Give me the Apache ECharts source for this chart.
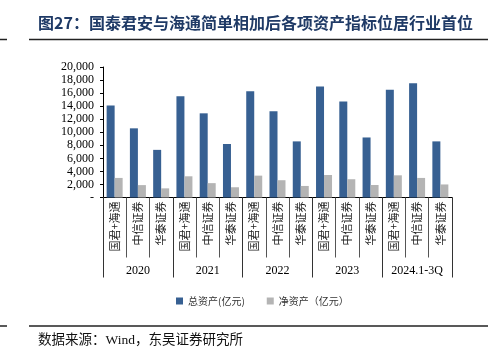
<!DOCTYPE html>
<html>
<head>
<meta charset="utf-8">
<script src="https://cdn.jsdelivr.net/npm/echarts@6/dist/echarts.min.js"></script>
<style>html,body{margin:0;padding:0;background:#fff;}#c{width:495px;height:353px;}</style>
</head>
<body>
<div id="c"></div>
<script>
const categories = ['国君+海通','中信证券','华泰证券','国君+海通','中信证券','华泰证券','国君+海通','中信证券','华泰证券','国君+海通','中信证券','华泰证券','国君+海通','中信证券','华泰证券'];
const years = ['2020','2021','2022','2023','2024.1-3Q'];
const totalAssets = [14100,10600,7300,15500,12900,8200,16300,13200,8600,17000,14700,9200,16500,17500,8600];
const netAssets = [3000,1900,1400,3250,2200,1570,3350,2650,1770,3450,2800,1920,3400,3000,2000];
const seriesNames = ['总资产(亿元)','净资产（亿元）'];

const chart = echarts.init(document.getElementById('c'), null, {renderer:'canvas'});
const serif = 'Liberation Serif, "Noto Sans CJK SC", serif';
const cjk = '"Noto Sans CJK SC", sans-serif';
chart.setOption({
  animation:false,
  backgroundColor:'#fff',
  grid:{left:103,right:43,top:67,bottom:155.5},
  legend:{
    data:seriesNames, left:171, top:291, itemWidth:7, itemHeight:7, itemGap:22,
    icon:'rect',
    textStyle:{fontSize:10, fontFamily:cjk, color:'#333'}
  },
  xAxis:[{
    type:'category', data:categories, position:'bottom',
    axisLine:{show:true, lineStyle:{color:'#000', width:1}},
    axisTick:{show:true, interval:0, length:60, lineStyle:{color:'#555'}},
    axisLabel:{interval:0, rotate:90, margin:4, fontSize:11, fontFamily:cjk, color:'#222'}
  },{
    type:'category', data:years, position:'bottom', offset:0,
    axisLine:{show:false},
    axisTick:{show:true, interval:0, length:80, lineStyle:{color:'#333'}},
    axisLabel:{interval:0, margin:67, fontSize:12, fontFamily:serif, color:'#000'}
  }],
  yAxis:{
    type:'value', min:0, max:20000, interval:2000,
    axisLine:{show:true, lineStyle:{color:'#000'}},
    axisTick:{show:true, length:3, lineStyle:{color:'#000'}},
    splitLine:{show:false},
    axisLabel:{margin:9, fontSize:12, fontFamily:serif, color:'#000',
      formatter:function(v){return v===0?'-':v.toLocaleString('en-US');}}
  },
  series:[{
    name:seriesNames[0], type:'bar', data:totalAssets, xAxisIndex:0,
    barWidth:8, barGap:'0%', itemStyle:{color:'#376092'}
  },{
    name:seriesNames[1], type:'bar', data:netAssets, xAxisIndex:0,
    barWidth:8, itemStyle:{color:'#b4b4b4'}
  }],
  graphic:[
    {type:'text', left:38, top:15, style:{text:'图27：国泰君安与海通简单相加后各项资产指标位居行业首位', font:'bold 16px "Noto Sans CJK SC"', fill:'#1f3a66'}},
    {type:'line', shape:{x1:29,y1:39.5,x2:488,y2:39.5}, style:{stroke:'#222', lineWidth:1.5}},
    {type:'line', shape:{x1:0,y1:39.5,x2:7,y2:39.5}, style:{stroke:'#222', lineWidth:1.5}},
    {type:'line', shape:{x1:29,y1:326,x2:488,y2:326}, style:{stroke:'#222', lineWidth:1.5}},
    {type:'line', shape:{x1:0,y1:326,x2:7,y2:326}, style:{stroke:'#222', lineWidth:1.5}},
    {type:'text', left:38, top:334, style:{text:'数据来源：Wind，东吴证券研究所', font:'13.5px "Liberation Serif", "Noto Sans CJK SC"', fill:'#111'}}
  ]
});
</script>
</body>
</html>
